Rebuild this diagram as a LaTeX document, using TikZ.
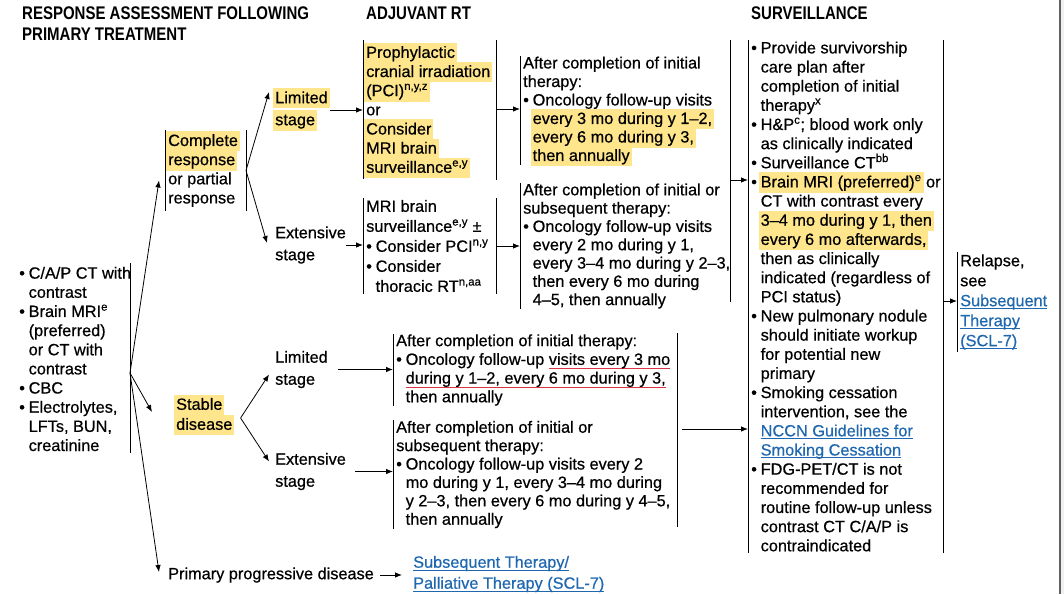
\documentclass[tikz,border=0pt]{standalone}
\usepackage{fontspec}
\setmainfont{Liberation Sans}
\newfontface\bodyface[FakeBold=0.6,Ligatures=TeX]{Liberation Sans}
\newfontfamily\headfam[FakeStretch=0.82]{Liberation Sans}
\usetikzlibrary{arrows.meta}

\definecolor{hly}{RGB}{255,230,140}
\definecolor{lnkblue}{RGB}{31,104,176}
\definecolor{ulred}{RGB}{222,52,72}

\setlength\fboxsep{2pt}
\newlength\ulw
\newcommand\bodyfont{\bodyface\fontsize{16.3}{19.15}\selectfont}
\newcommand\headfont{\headfam\bfseries\fontsize{18.3}{21}\selectfont}
\newcommand\bul{\makebox[9.5pt][l]{•}}
\newcommand\indt{\hspace*{9.5pt}}
% marker pen behind one line of text
\newcommand\hlt[1]{\rlap{\hspace*{-2pt}\smash{\colorbox{hly}{\rule[-3pt]{0pt}{16pt}\phantom{#1}}}}#1}
% blue underlined cross references
\newcommand\linkt[1]{\settowidth\ulw{#1}\textcolor{lnkblue}{\rlap{\rule[-2.8pt]{\ulw}{0.9pt}}#1}}
\newcommand\redul[1]{\settowidth\ulw{#1}\rlap{\textcolor{ulred}{\rule[-4.5pt]{\ulw}{0.9pt}}}#1}

\begin{document}
\begin{tikzpicture}[x=1pt,y=-1pt,font=\bodyfont,>={Latex[length=7pt,width=5.5pt]},
    txt/.style={align=left,inner sep=0pt,anchor=west},
    blk/.style={align=left,inner xsep=3pt,inner ysep=0pt,anchor=west,minimum height=#1},
    lead/.style={font=\bodyface\fontsize{16.3}{#1}\selectfont},
    arr/.style={->,line width=0.8pt},
    bar/.style={line width=1pt}]
\useasboundingbox (0,0) rectangle (1064,594);
\fill[gray!12] (1060,0) rectangle (1064,594);
\draw[gray!75!black,line width=1.2pt] (1060,0) -- (1060,594);

% column heads
\node[anchor=north west,align=left,inner sep=0pt,font=\headfont] (hresp) at (22,7) {RESPONSE ASSESSMENT FOLLOWING\\PRIMARY TREATMENT};
\node[anchor=north west,inner sep=0pt,font=\headfont] (hadj) at (366,7) {ADJUVANT RT};
\node[anchor=north west,inner sep=0pt,font=\headfont] (hsurv) at (751,7) {SURVEILLANCE};

% workup after primary treatment
\node[txt] (wk) at (19,359) {\bul C/A/P CT with\\ \indt contrast\\ \bul Brain MRI\textsuperscript{e}\\ \indt (preferred)\\ \indt or CT with\\ \indt contrast\\ \bul CBC\\ \bul Electrolytes,\\ \indt LFTs, BUN,\\ \indt creatinine};
\draw[bar] (130,263) -- (130,453);
\coordinate (wkv) at (130,373);

% response categories
\node[blk=81pt] (cr) at (165,170.5) {\hlt{Complete}\\ \hlt{response}\\ or partial\\ response};
\draw[bar] (cr.north west) -- (cr.south west) (246,130) -- (246,211);
\coordinate (crv) at (246,170.5);
\node[txt,lead=20] (sd) at (176,414) {\hlt{Stable}\\ \hlt{disease}};
\node[txt] (ppd) at (168,575) {Primary progressive disease};

\draw[arr] (wkv) -- ([shift={(-6,10)}]cr.west);
\draw[arr] (wkv) -- ([shift={(-24,-2)}]sd.west);
\draw[arr] (wkv) -- ([shift={(-9,-3)}]ppd.west);

% stages
\node[txt,lead=22] (ls1) at (275,110) {\hlt{Limited}\\ \hlt{stage}};
\node[txt,lead=22] (es1) at (275,245) {Extensive\\ stage};
\node[txt,lead=22] (ls2) at (275,369.5) {Limited\\ stage};
\node[txt,lead=22] (es2) at (275,471.5) {Extensive\\ stage};
\draw[arr] (crv) -- ([shift={(-6,-18)}]ls1.west);
\draw[arr] (crv) -- ([shift={(-8,-2)}]es1.west);
\coordinate (sdv) at ([shift={(8,4)}]sd.east);
\draw[arr] (sdv) -- ([shift={(-6,5)}]ls2.west);
\draw[arr] (sdv) -- ([shift={(-6,-10)}]es2.west);

% adjuvant RT
\node[blk=139pt] (b1) at (363,109.5) {\hlt{Prophylactic}\\ \hlt{cranial irradiation}\\ \hlt{(PCI)\textsuperscript{n,y,z}}\\ or\\ \hlt{Consider}\\ \hlt{MRI brain}\\ \hlt{surveillance\textsuperscript{e,y}}};
\node[blk=96pt,lead=20] (b3) at (363,246) {MRI brain\\ surveillance\textsuperscript{e,y} ±\\ \bul Consider PCI\textsuperscript{n,y}\\ \bul Consider\\ \indt thoracic RT\textsuperscript{n,aa}};
\draw[bar] (b1.north west) -- (b1.south west) (496,40) -- (496,180);
\draw[bar] (b3.north west) -- (b3.south west) (496,198) -- (496,294);
\coordinate (b1r) at (496,109);
\coordinate (b3r) at (496,246);
\draw[arr] ([xshift=2pt]ls1.east) -- (ls1.east -| b1.west);
\draw[arr] (es1.east) -- (es1.east -| b3.west);

% follow-up after complete/partial response
\node[blk=107pt,lead=18.5] (b2) at (520,110.5) {After completion of initial\\ therapy:\\ \bul Oncology follow-up visits\\ \indt\hlt{every 3 mo during y 1--2,}\\ \indt\hlt{every 6 mo during y 3,}\\ \indt\hlt{then annually}};
\node[blk=123pt,lead=18.3] (b4) at (520,246) {After completion of initial or\\ subsequent therapy:\\ \bul Oncology follow-up visits\\ \indt every 2 mo during y 1,\\ \indt every 3--4 mo during y 2--3,\\ \indt then every 6 mo during\\ \indt 4--5, then annually};
\draw[bar] (b2.north west) -- (b2.south west) (b4.north west) -- (b4.south west) (730,40) -- (730,302);
\coordinate (b24r) at (730,180);
\draw[arr] (b1r) -- (b1r -| b2.west);
\draw[arr] (b3r) -- (b3r -| b4.west);

% follow-up after stable disease
\node[blk=70pt,lead=18.7] (b5) at (393,370) {After completion of initial therapy:\\ \bul Oncology follow-up \redul{visits every 3 mo}\\ \indt\redul{during y 1--2, every 6 mo during y 3,}\\ \indt then annually};
\node[blk=109pt,lead=18.4] (b6) at (393,474.5) {After completion of initial or\\ subsequent therapy:\\ \bul Oncology follow-up visits every 2\\ \indt mo during y 1, every 3--4 mo during\\ \indt y 2--3, then every 6 mo during y 4--5,\\ \indt then annually};
\draw[bar] (b5.north west) -- (b5.south west) (b6.north west) -- (b6.south west) (677,333) -- (677,527);
\coordinate (b56r) at (682,429);
\draw[arr] ([xshift=10pt]ls2.east) -- (ls2.east -| b5.west);
\draw[arr] ([xshift=9pt]es2.east) -- (es2.east -| b6.west);

% progressive disease
\node[txt,lead=21] (pal) at (413,574) {\linkt{Subsequent Therapy/}\\ \linkt{Palliative Therapy (SCL-7)}};
\draw[arr] ([xshift=6pt]ppd.east) -- ([xshift=-11pt]ppd.east -| pal.west);

% surveillance
\node[blk=513pt] (sv) at (748,296.5) {\bul Provide survivorship\\ \indt care plan after\\ \indt completion of initial\\ \indt therapy\textsuperscript{x}\\
  \bul H\&P\textsuperscript{c}; blood work only\\ \indt as clinically indicated\\ \bul Surveillance CT\textsuperscript{bb}\\
  \bul\hlt{Brain MRI (preferred)\textsuperscript{e}} or\\ \indt CT with contrast every\\ \indt\hlt{3--4 mo during y 1, then}\\ \indt\hlt{every 6 mo afterwards,}\\ \indt then as clinically\\ \indt indicated (regardless of\\ \indt PCI status)\\
  \bul New pulmonary nodule\\ \indt should initiate workup\\ \indt for potential new\\ \indt primary\\
  \bul Smoking cessation\\ \indt intervention, see the\\ \indt\linkt{NCCN Guidelines for}\\ \indt\linkt{Smoking Cessation}\\
  \bul FDG-PET/CT is not\\ \indt recommended for\\ \indt routine follow-up unless\\ \indt contrast CT C/A/P is\\ \indt contraindicated};
\draw[bar] (sv.north west) -- (sv.south west) (943,40) -- (943,553);
\coordinate (svr) at (943,301);
\draw[arr] (b24r) -- (b24r -| sv.west);
\draw[arr] (b56r) -- (b56r -| sv.west);

% relapse
\node[blk=100pt,lead=20] (rl) at (957,302) {Relapse,\\ see\\ \linkt{Subsequent}\\ \linkt{Therapy}\\ \linkt{(SCL-7)}};
\draw[bar] (rl.north west) -- (rl.south west);
\draw[arr] (svr) -- (svr -| rl.west);
\end{tikzpicture}
\end{document}
